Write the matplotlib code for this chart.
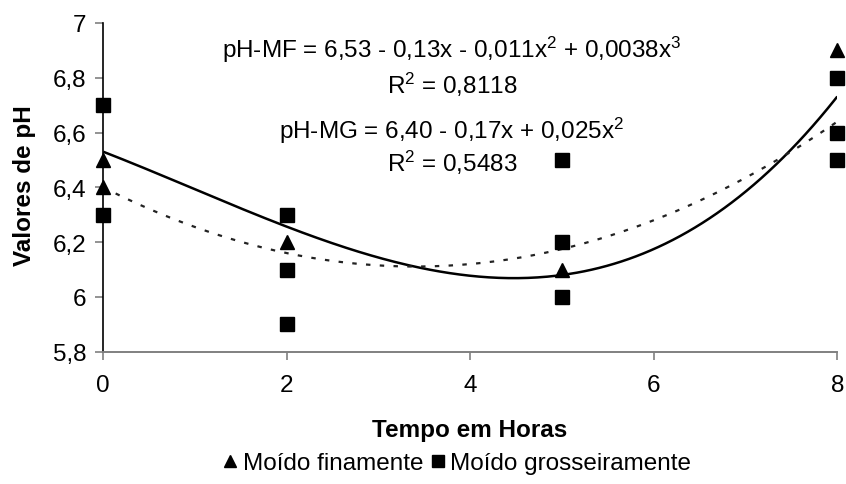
import numpy as np
import matplotlib
matplotlib.use("Agg")
import matplotlib.pyplot as plt
from matplotlib.lines import Line2D

plt.rcParams['font.family'] = ['Liberation Sans', 'DejaVu Sans']
plt.rcParams['mathtext.fontset'] = 'custom'
plt.rcParams['mathtext.rm'] = 'Liberation Sans'
plt.rcParams['mathtext.it'] = 'Liberation Sans'

# Observed pH values (hours, pH)
fino_x = [0, 0, 2, 5, 8]
fino_y = [6.5, 6.4, 6.2, 6.1, 6.9]
grosso_x = [0, 0, 2, 2, 2, 5, 5, 5, 8, 8, 8]
grosso_y = [6.7, 6.3, 6.3, 6.1, 5.9, 6.5, 6.2, 6.0, 6.8, 6.6, 6.5]

# Fitted trend coefficients (constant, x, x^2, x^3)
coef_mf = [6.53, -0.13, -0.011, 0.0038]
coef_mg = [6.40, -0.17, 0.025]

x_ticks = [0, 2, 4, 6, 8]
x_ticklabels = ["0", "2", "4", "6", "8"]
y_ticks = [5.8, 6.0, 6.2, 6.4, 6.6, 6.8, 7.0]
y_ticklabels = ["5,8", "6", "6,2", "6,4", "6,6", "6,8", "7"]

eq_mf = r"pH-MF = 6,53 - 0,13x - 0,011x$^{2}$ + 0,0038x$^{3}$"
r2_mf = r"R$^{2}$ = 0,8118"
eq_mg = r"pH-MG = 6,40 - 0,17x + 0,025x$^{2}$"
r2_mg = r"R$^{2}$ = 0,5483"

legend_labels = ["Moído finamente", "Moído grosseiramente"]

FS = 17.5
W, H = 846, 485
fig = plt.figure(figsize=(W / 100, H / 100), dpi=100)
ax = fig.add_axes([103.3 / W, 1 - 352.7 / H, (837.3 - 103.3) / W, (352.7 - 24) / H])

# Trend curves
xs = np.linspace(0, 8, 300)
y_mf = sum(c * xs ** i for i, c in enumerate(coef_mf))
y_mg = sum(c * xs ** i for i, c in enumerate(coef_mg))
ax.plot(xs, y_mf, color='black', lw=1.8, solid_capstyle='butt', zorder=2)
ax.plot(xs, y_mg, color='#222222', lw=1.6, dashes=(2, 4.2), zorder=2)

# Observations
ax.plot(fino_x, fino_y, linestyle='none', marker='^', ms=10, color='black',
        clip_on=False, zorder=3)
ax.plot(grosso_x, grosso_y, linestyle='none', marker='s', ms=10, color='black',
        clip_on=False, zorder=3)

ax.set_xlim(0, 8)
ax.set_ylim(5.8, 7.0)
ax.set_xticks(x_ticks)
ax.set_xticklabels(x_ticklabels, fontsize=FS)
ax.set_yticks(y_ticks)
ax.set_yticklabels(y_ticklabels, fontsize=FS)

for side in ('top', 'right'):
    ax.spines[side].set_visible(False)
ax.spines['left'].set_color('black')
ax.spines['left'].set_linewidth(1.2)
ax.spines['bottom'].set_color('#808080')
ax.spines['bottom'].set_linewidth(1.4)
ax.tick_params(axis='x', direction='out', length=5.8, width=1.2, color='#808080', pad=10)
ax.tick_params(axis='y', direction='out', length=5.8, width=1.2, color='#808080', pad=6.5)
ax.get_xticklines()[0].set_color('black')

# Equations of the fitted curves
tx = 3.80
ax.text(tx, 6.875, eq_mf, ha='center', va='baseline', fontsize=FS)
ax.text(tx, 6.744, r2_mf, ha='center', va='baseline', fontsize=FS)
ax.text(tx, 6.580, eq_mg, ha='center', va='baseline', fontsize=FS)
ax.text(tx, 6.460, r2_mg, ha='center', va='baseline', fontsize=FS)

# Axis titles
fig.text(470 / W, 1 - 437 / H, "Tempo em Horas", ha='center', va='baseline',
         fontsize=FS, fontweight='bold')
fig.text(24 / W, 1 - 186 / H, "Valores de pH", ha='center', va='center',
         rotation=90, fontsize=FS, fontweight='bold')

handles = [Line2D([], [], linestyle='none', marker='^', ms=9, color='black'),
           Line2D([], [], linestyle='none', marker='s', ms=9, color='black')]
fig.legend(handles, legend_labels, loc='center', bbox_to_anchor=(457 / W, 1 - 464 / H),
           ncol=2, frameon=False, fontsize=FS, handlelength=0.6, handletextpad=0.2,
           columnspacing=0.3, borderpad=0, borderaxespad=0)

fig.savefig("out.png", dpi=100)
